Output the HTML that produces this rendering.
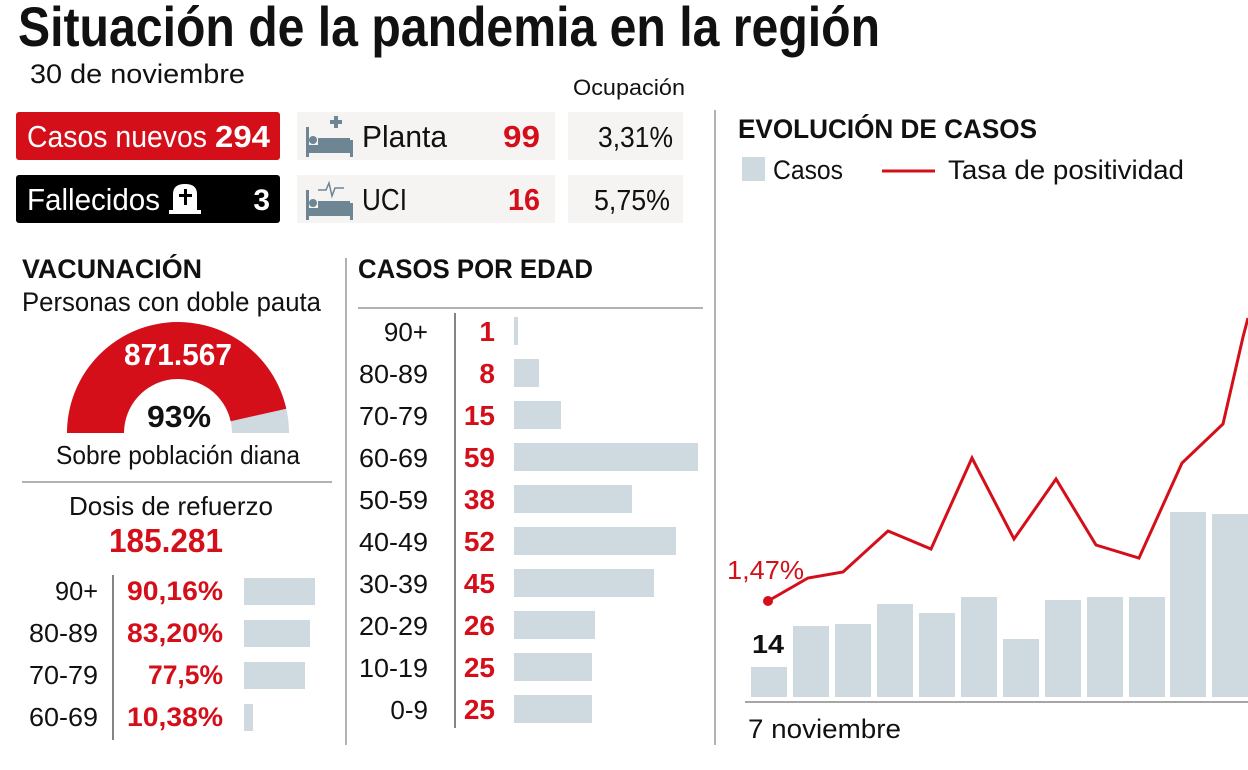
<!DOCTYPE html>
<html><head><meta charset="utf-8"><style>
html,body{margin:0;padding:0;background:#fff;}
svg{display:block;}
text{font-family:"Liberation Sans",sans-serif;}
</style></head><body>
<svg width="1248" height="770" viewBox="0 0 1248 770" xmlns="http://www.w3.org/2000/svg">
<text x="18" y="46" font-size="56" font-weight="bold" textLength="862" lengthAdjust="spacingAndGlyphs" fill="#111">Situación de la pandemia en la región</text>
<text x="30" y="83" font-size="27" textLength="215" lengthAdjust="spacingAndGlyphs" fill="#111">30 de noviembre</text>
<text x="573" y="95" font-size="22" textLength="112" lengthAdjust="spacingAndGlyphs" fill="#111">Ocupación</text>

<rect x="16" y="112" width="264" height="48" rx="3" fill="#d40f1a"/>
<text x="27" y="147" font-size="31" fill="#fff" textLength="180" lengthAdjust="spacingAndGlyphs">Casos nuevos</text>
<text x="215" y="147" font-size="31" font-weight="bold" fill="#fff" textLength="55" lengthAdjust="spacingAndGlyphs">294</text>
<rect x="16" y="175" width="264" height="48" rx="3" fill="#000"/>
<text x="27" y="210" font-size="31" fill="#fff" textLength="133" lengthAdjust="spacingAndGlyphs">Fallecidos</text>
<path d="M173 212 V194 Q173 184 185 184 Q197 184 197 194 V212 Z" fill="#fff"/>
<rect x="169" y="210" width="32" height="4" fill="#fff"/>
<rect x="184" y="189" width="3" height="16" fill="#000"/><rect x="179" y="194" width="13" height="3" fill="#000"/>
<text x="270" y="210" font-size="30" font-weight="bold" fill="#fff" text-anchor="end">3</text>

<rect x="297" y="112" width="258" height="48" fill="#f5f4f2"/>
<rect x="568" y="112" width="115" height="48" fill="#f5f4f2"/>
<rect x="297" y="175" width="258" height="48" fill="#f5f4f2"/>
<rect x="568" y="175" width="115" height="48" fill="#f5f4f2"/>
<g fill="#6e8594">
<rect x="306" y="127" width="3" height="30"/><rect x="350" y="140" width="3" height="17"/><rect x="306" y="145" width="47" height="8"/><rect x="318" y="138" width="32" height="7"/><circle cx="313" cy="140" r="4"/>
<rect x="334" y="116" width="4" height="12"/><rect x="330" y="120" width="12" height="4"/>
<rect x="306" y="190" width="3" height="30"/><rect x="350" y="203" width="3" height="17"/><rect x="306" y="208" width="47" height="8"/><rect x="318" y="201" width="32" height="7"/><circle cx="313" cy="203" r="4"/>
</g>
<polyline points="318,190 326,190 329,183 332,196 335,188 344,188" fill="none" stroke="#6e8594" stroke-width="1.5"/>
<text x="362" y="147" font-size="31" fill="#111" textLength="85" lengthAdjust="spacingAndGlyphs">Planta</text>
<text x="540" y="147" font-size="31" font-weight="bold" fill="#d40f1a" text-anchor="end" textLength="37" lengthAdjust="spacingAndGlyphs">99</text>
<text x="673" y="147" font-size="29" fill="#111" text-anchor="end" textLength="75" lengthAdjust="spacingAndGlyphs">3,31%</text>
<text x="362" y="210" font-size="31" fill="#111" textLength="45" lengthAdjust="spacingAndGlyphs">UCI</text>
<text x="540" y="210" font-size="31" font-weight="bold" fill="#d40f1a" text-anchor="end" textLength="32" lengthAdjust="spacingAndGlyphs">16</text>
<text x="670" y="210" font-size="29" fill="#111" text-anchor="end" textLength="76" lengthAdjust="spacingAndGlyphs">5,75%</text>

<line x1="715" y1="110" x2="715" y2="745" stroke="#999" stroke-width="1.5"/>
<line x1="346" y1="258" x2="346" y2="745" stroke="#999" stroke-width="1.5"/>

<text x="22" y="278" font-size="27" font-weight="bold" fill="#111" textLength="180" lengthAdjust="spacingAndGlyphs">VACUNACIÓN</text>
<text x="22" y="311" font-size="27" fill="#111" textLength="299" lengthAdjust="spacingAndGlyphs">Personas con doble pauta</text>
<path d="M67 433 A111 111 0 0 1 289 433 L232 433 A54 54 0 0 0 124 433 Z" fill="#cfd9e0"/>
<path d="M67 433 A111 111 0 0 1 286.3 408.7 L230.7 421.2 A54 54 0 0 0 124 433 Z" fill="#d40f1a"/>
<text x="178" y="365" font-size="31" font-weight="bold" fill="#fff" text-anchor="middle" textLength="108" lengthAdjust="spacingAndGlyphs">871.567</text>
<text x="179" y="427" font-size="31" font-weight="bold" fill="#111" text-anchor="middle" textLength="64" lengthAdjust="spacingAndGlyphs">93%</text>
<text x="178" y="464" font-size="26" fill="#111" text-anchor="middle" textLength="244" lengthAdjust="spacingAndGlyphs">Sobre población diana</text>
<line x1="22" y1="482" x2="332" y2="482" stroke="#999" stroke-width="1.5"/>
<text x="171" y="515" font-size="26" fill="#111" text-anchor="middle" textLength="204" lengthAdjust="spacingAndGlyphs">Dosis de refuerzo</text>
<text x="166" y="552" font-size="33" font-weight="bold" fill="#d40f1a" text-anchor="middle" textLength="114" lengthAdjust="spacingAndGlyphs">185.281</text>
<line x1="113" y1="575" x2="113" y2="740" stroke="#333" stroke-width="1.2"/>
<g font-size="26" fill="#111" text-anchor="end">
<text x="98" y="600" textLength="43" lengthAdjust="spacingAndGlyphs">90+</text><text x="98" y="642" textLength="69" lengthAdjust="spacingAndGlyphs">80-89</text><text x="98" y="684" textLength="69" lengthAdjust="spacingAndGlyphs">70-79</text><text x="98" y="726" textLength="69" lengthAdjust="spacingAndGlyphs">60-69</text>
</g>
<g font-size="27" font-weight="bold" fill="#d40f1a">
<text x="127" y="600" textLength="96" lengthAdjust="spacingAndGlyphs">90,16%</text>
<text x="127" y="642" textLength="96" lengthAdjust="spacingAndGlyphs">83,20%</text>
<text x="148" y="684" textLength="75" lengthAdjust="spacingAndGlyphs">77,5%</text>
<text x="127" y="726" textLength="96" lengthAdjust="spacingAndGlyphs">10,38%</text>
</g>
<g fill="#cfd9e0">
<rect x="244" y="578" width="71" height="27"/><rect x="244" y="620" width="66" height="27"/><rect x="244" y="662" width="61" height="27"/><rect x="244" y="704" width="9" height="27"/>
</g>

<text x="358" y="278" font-size="27" font-weight="bold" fill="#111" textLength="235" lengthAdjust="spacingAndGlyphs">CASOS POR EDAD</text>
<line x1="358" y1="308" x2="703" y2="308" stroke="#999" stroke-width="1.5"/>
<line x1="455" y1="313" x2="455" y2="728" stroke="#333" stroke-width="1.2"/>
<g font-size="26" fill="#111" text-anchor="end">
<text x="428" y="341">90+</text><text x="428" y="383" textLength="69" lengthAdjust="spacingAndGlyphs">80-89</text><text x="428" y="425" textLength="69" lengthAdjust="spacingAndGlyphs">70-79</text><text x="428" y="467" textLength="69" lengthAdjust="spacingAndGlyphs">60-69</text><text x="428" y="509" textLength="69" lengthAdjust="spacingAndGlyphs">50-59</text><text x="428" y="551" textLength="69" lengthAdjust="spacingAndGlyphs">40-49</text><text x="428" y="593" textLength="69" lengthAdjust="spacingAndGlyphs">30-39</text><text x="428" y="635" textLength="69" lengthAdjust="spacingAndGlyphs">20-29</text><text x="428" y="677" textLength="69" lengthAdjust="spacingAndGlyphs">10-19</text><text x="428" y="719">0-9</text>
</g>
<g font-size="28" font-weight="bold" fill="#d40f1a" text-anchor="end">
<text x="495" y="341">1</text><text x="495" y="383">8</text><text x="495" y="425">15</text><text x="495" y="467">59</text><text x="495" y="509">38</text><text x="495" y="551">52</text><text x="495" y="593">45</text><text x="495" y="635">26</text><text x="495" y="677">25</text><text x="495" y="719">25</text>
</g>
<g fill="#cfd9e0">
<rect x="514" y="317" width="4" height="28"/><rect x="514" y="359" width="25" height="28"/><rect x="514" y="401" width="47" height="28"/><rect x="514" y="443" width="184" height="28"/><rect x="514" y="485" width="118" height="28"/><rect x="514" y="527" width="162" height="28"/><rect x="514" y="569" width="140" height="28"/><rect x="514" y="611" width="81" height="28"/><rect x="514" y="653" width="78" height="28"/><rect x="514" y="695" width="78" height="28"/>
</g>

<text x="738" y="138" font-size="27" font-weight="bold" fill="#111" textLength="299" lengthAdjust="spacingAndGlyphs">EVOLUCIÓN DE CASOS</text>
<rect x="742" y="157" width="23" height="24" fill="#cfd9e0"/>
<text x="773" y="179" font-size="27" fill="#111" textLength="70" lengthAdjust="spacingAndGlyphs">Casos</text>
<line x1="882" y1="171" x2="935" y2="171" stroke="#d40f1a" stroke-width="3"/>
<text x="948" y="179" font-size="27" fill="#111" textLength="236" lengthAdjust="spacingAndGlyphs">Tasa de positividad</text>

<g fill="#cfd9e0">
<rect x="751" y="667" width="36" height="30"/>
<rect x="793" y="626" width="36" height="71"/>
<rect x="835" y="624" width="36" height="73"/>
<rect x="877" y="604" width="36" height="93"/>
<rect x="919" y="613" width="36" height="84"/>
<rect x="961" y="597" width="36" height="100"/>
<rect x="1003" y="639" width="36" height="58"/>
<rect x="1045" y="600" width="36" height="97"/>
<rect x="1087" y="597" width="36" height="100"/>
<rect x="1129" y="597" width="36" height="100"/>
<rect x="1170" y="512" width="36" height="185"/>
<rect x="1212" y="514" width="36" height="183"/>
</g>
<line x1="745" y1="702" x2="1248" y2="702" stroke="#888" stroke-width="1.5"/>
<polyline points="768,601 808,578 843,572 888,531 931,549 972,458 1014,539 1056,479 1096,545 1139,558 1182,463 1223,424 1243,337 1248,318" fill="none" stroke="#d40f1a" stroke-width="3" stroke-linejoin="miter"/>
<circle cx="768" cy="601" r="5" fill="#d40f1a"/>
<text x="727" y="579" font-size="26" fill="#d40f1a" textLength="77" lengthAdjust="spacingAndGlyphs">1,47%</text>
<text x="752" y="653" font-size="26" font-weight="bold" fill="#111" textLength="32" lengthAdjust="spacingAndGlyphs">14</text>
<text x="748" y="738" font-size="27" fill="#111" textLength="153" lengthAdjust="spacingAndGlyphs">7 noviembre</text>
</svg>
</body></html>
